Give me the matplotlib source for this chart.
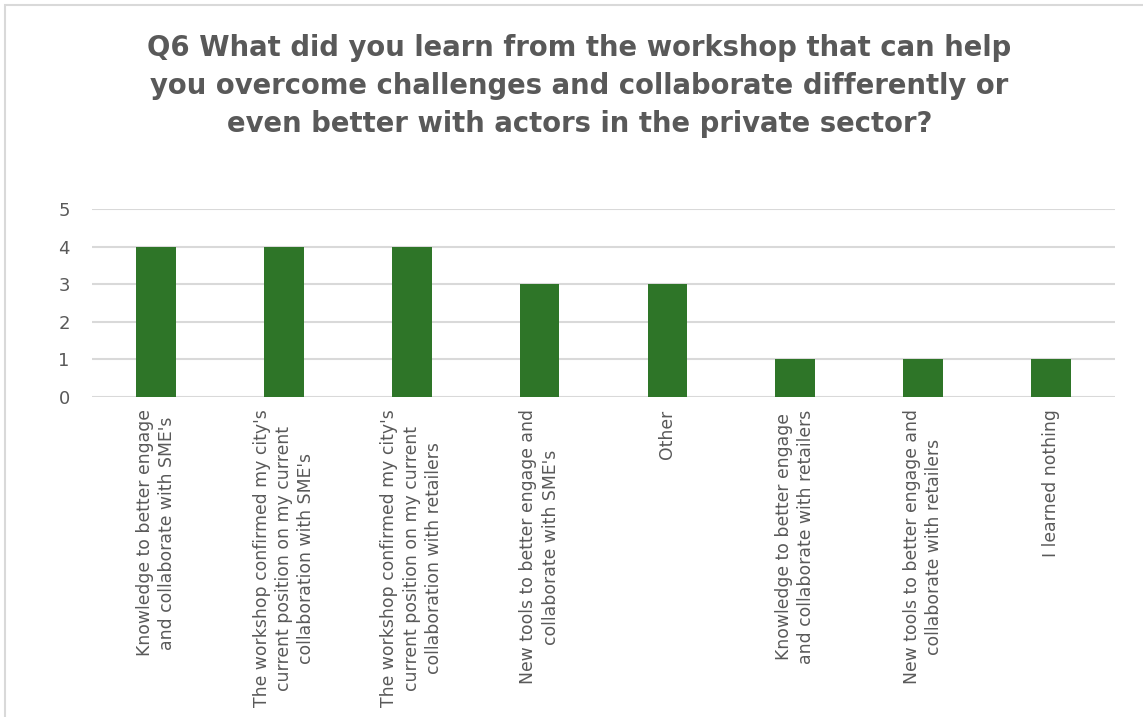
import matplotlib.pyplot as plt
from matplotlib.patches import Rectangle

categories = [
    "Knowledge to better engage\nand collaborate with SME's",
    "The workshop confirmed my city's\ncurrent position on my current\ncollaboration with SME's",
    "The workshop confirmed my city's\ncurrent position on my current\ncollaboration with retailers",
    "New tools to better engage and\ncollaborate with SME's",
    "Other",
    "Knowledge to better engage\nand collaborate with retailers",
    "New tools to better engage and\ncollaborate with retailers",
    "I learned nothing",
]
counts = [4, 4, 4, 3, 3, 1, 1, 1]
yticks = [0, 1, 2, 3, 4, 5]

title = ("Q6 What did you learn from the workshop that can help\n"
         "you overcome challenges and collaborate differently or\n"
         "even better with actors in the private sector?")

text_gray = "#595959"
grid_gray = "#d9d9d9"
bar_green = "#2E7528"

fig = plt.figure(figsize=(11.43, 7.17), dpi=100)
fig.patch.set_facecolor("white")

# outer chart border (cropped on right and bottom in the reference)
fig.patches.append(Rectangle((5 / 1143, -0.1), 1.2, 1 - 5 / 717 + 0.1,
                             transform=fig.transFigure, fill=False,
                             edgecolor=grid_gray, linewidth=1.5))

ax = fig.add_axes([92 / 1143, 1 - 397 / 717, (1115 - 92) / 1143, (397 - 209) / 717])
x = range(len(categories))
ax.bar(x, counts, width=0.31, color=bar_green, zorder=3)

ax.set_xlim(-0.5, len(categories) - 0.5)
ax.set_ylim(0, 5)
ax.set_yticks(yticks)
ax.yaxis.grid(True, color=grid_gray, linewidth=1.5, zorder=0)
for s in ax.spines.values():
    s.set_visible(False)
ax.tick_params(axis="y", length=0, labelsize=13, labelcolor=text_gray, pad=16)
ax.tick_params(axis="x", length=0, pad=9)
ax.set_xticks(list(x))
ax.set_xticklabels(categories, rotation=90, ha="center", va="top",
                   multialignment="center", fontsize=12.4, color=text_gray,
                   linespacing=1.3)

fig.text(0.507, 1 - 34 / 717, title, ha="center", va="top", fontsize=19.8,
         fontweight="bold", color=text_gray, linespacing=1.45)

fig.savefig("out.png", dpi=100)
